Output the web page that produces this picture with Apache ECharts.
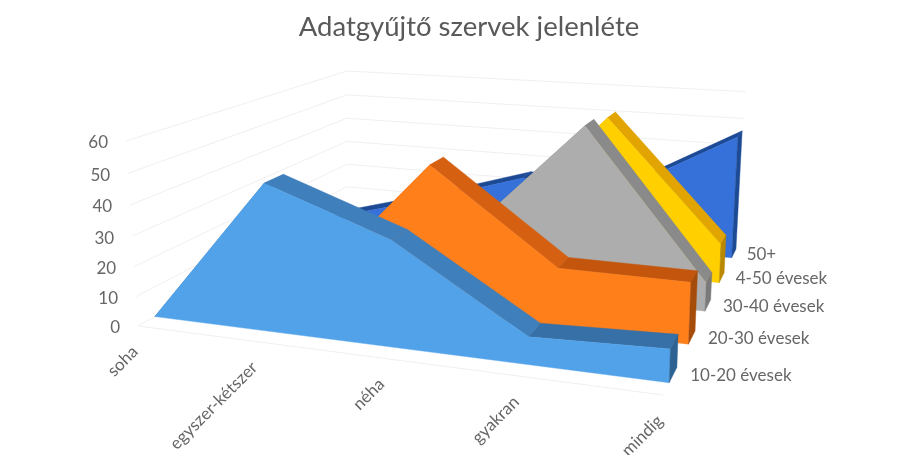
<!DOCTYPE html>
<html>
<head>
<meta charset="utf-8">
<style>html,body{margin:0;padding:0;background:#fff}#chart{width:920px;height:455px}</style>
<script src="https://cdn.jsdelivr.net/npm/echarts@6/dist/echarts.min.js"></script>
</head>
<body>
<div id="chart"></div>
<script>
/* ---------- data ---------- */
const categories = ['soha', 'egyszer-kétszer', 'néha', 'gyakran', 'mindig'];
const yTicks = [0, 10, 20, 30, 40, 50, 60];
const seriesNames = ['10-20 évesek', '20-30 évesek', '30-40 évesek', '4-50 évesek', '50+'];
const age10to20 = [0, 48, 34, 8.7, 10.2];
const age20to30 = [0, 8, 49.7, 20, 19.8];
const age30to40 = [0, 5, 19, 58.8, 9.7];
const age40to50 = [0, 6, 15, 55.9, 14.1];
const age50plus = [0, 11.5, 24, 23.5, 45.9];
const seriesValues = [age10to20, age20to30, age30to40, age40to50, age50plus];

/* ---------- colours: front, top falling, top flat, side ---------- */
const palette = [
  ['#52A2EA', '#3F7FBC', '#3670A6', '#2C6392'],
  ['#FF7F1B', '#D66011', '#C3560C', '#A64C0A'],
  ['#ADADAD', '#8A8A8A', '#8A8A8A', '#7A7A7A'],
  ['#FFCF00', '#E2A400', '#E2A400', '#B98800'],
  ['#3670D9', '#1C4A94', '#1C4A94', '#1C4A94']
];

const TEXT = '#666666';
const GRIDLINE = '#F0F0F0';
const FONT = 'Lato';

/* ---------- hidden cartesian grid, its scales feed the projection ---------- */
const GRID = { left: 100, top: 100, width: 400, height: 200 };

function project(x, d, r) {
  const lean = -18.8 - 11.2 * Math.min(1, 2 * x);
  const X = 448.8 * x + 336.7 * d + 138 + lean * r;
  const Y = 23.6 * x - 40.1 * d + 326 + (-192.6 - 7 * x) * r;
  const W = -0.115 * x + 0.368 * d + 1 - 0.054 * r;
  return [X / W, Y / W];
}

// category index + value -> [x, r], both 0..1, through the axes
function norm(api, cat, val) {
  const p = api.coord([cat, val]);
  return [(p[0] - GRID.left) / GRID.width, (GRID.top + GRID.height - p[1]) / GRID.height];
}

const depthOf = (i) => 0.06 + 0.21 * i;
const THICK = 0.08;

function poly(points, fill) {
  return { type: 'polygon', shape: { points }, style: { fill, stroke: fill, lineWidth: 0.4 }, silent: true };
}

function label(text, x, y, font, align, extra) {
  return Object.assign({
    type: 'text', silent: true, x, y,
    style: { text, x: 0, y: 0, fill: TEXT, font, align, verticalAlign: 'middle' }
  }, extra || {});
}

/* ---------- one ribbon: top faces, front face, right side, name ---------- */
function renderRibbon(i, params, api) {
  if (params.dataIndex !== 0) return null;
  const d0 = depthOf(i);
  const d1 = d0 + THICK;
  const [front, topFall, topFlat, side] = palette[i];
  const pts = seriesValues[i].map((_, k) => norm(api, api.value(0, k), api.value(1, k)));
  const kids = [];

  for (let k = 0; k < pts.length - 1; k++) {
    const a = pts[k];
    const b = pts[k + 1];
    const fill = b[1] - a[1] > -0.02 && b[1] - a[1] < 0.05 ? topFlat : topFall;
    kids.push(poly([project(a[0], d0, a[1]), project(b[0], d0, b[1]), project(b[0], d1, b[1]), project(a[0], d1, a[1])], fill));
  }

  const outline = pts.map((p) => project(p[0], d0, p[1]));
  outline.push(project(1, d0, 0), project(0, d0, 0));
  kids.push(poly(outline, front));

  const end = pts[pts.length - 1];
  kids.push(poly([project(end[0], d0, 0), project(end[0], d0, end[1]), project(end[0], d1, end[1]), project(end[0], d1, 0)], side));

  const foot = project(1, d0, 0);
  kids.push(label(seriesNames[i], foot[0] + 21 - 1.5 * i, foot[1] - 7 + i, '17px ' + FONT, 'left'));
  return { type: 'group', children: kids };
}

/* ---------- walls: one gridline and tick label per tick ---------- */
function renderTick(params, api) {
  const tick = api.value(1);
  const r = norm(api, 0, tick)[1];
  const a = project(0, 0, r);
  const b = project(0, 1, r);
  const c = project(1, 1, r);
  const kids = [{
    type: 'polyline', silent: true,
    shape: { points: [a, b, c] },
    style: { fill: 'none', stroke: GRIDLINE, lineWidth: 1 }
  }];
  if (tick === 0) {
    kids.push({
      type: 'line', silent: true,
      shape: { x1: a[0], y1: a[1], x2: project(1, 0, 0)[0], y2: project(1, 0, 0)[1] },
      style: { stroke: GRIDLINE, lineWidth: 1 }
    });
  }
  kids.push(label(String(tick), a[0] - 18, a[1] + 2, '17px ' + FONT, 'right'));
  return { type: 'group', children: kids };
}

/* ---------- category names under the front edge ---------- */
function renderCategory(params, api) {
  const idx = api.value(0);
  const x = norm(api, idx, 0)[0];
  const p = project(x, 0, 0);
  return label(categories[idx], p[0] - 3, p[1] + 23, '17px ' + FONT, 'right', { rotation: Math.PI / 4 });
}

const ribbons = seriesNames.map((name, i) => ({
  name,
  type: 'custom',
  coordinateSystem: 'cartesian2d',
  clip: false,
  renderItem: (params, api) => renderRibbon(i, params, api),
  encode: { x: 0, y: 1 },
  data: seriesValues[i].map((v, k) => [k, v])
})).reverse();

const chart = echarts.init(document.getElementById('chart'));
chart.setOption({
  animation: false,
  backgroundColor: '#fff',
  title: {
    text: 'Adatgyűjtő szervek jelenléte',
    left: 464,
    top: 8,
    textAlign: 'center',
    textStyle: { fontFamily: FONT, fontSize: 27.5, fontWeight: 'normal', color: '#595959' }
  },
  grid: GRID,
  xAxis: { type: 'category', data: categories, boundaryGap: false, show: false },
  yAxis: { type: 'value', min: 0, max: 60, interval: 10, show: false },
  series: [
    {
      name: 'walls', type: 'custom', coordinateSystem: 'cartesian2d', clip: false,
      renderItem: renderTick, encode: { x: 0, y: 1 },
      data: yTicks.map((t) => [0, t])
    },
    {
      name: 'categories', type: 'custom', coordinateSystem: 'cartesian2d', clip: false,
      renderItem: renderCategory, encode: { x: 0, y: 1 },
      data: categories.map((c, k) => [k, 0])
    }
  ].concat(ribbons)
});
</script>
</body>
</html>
